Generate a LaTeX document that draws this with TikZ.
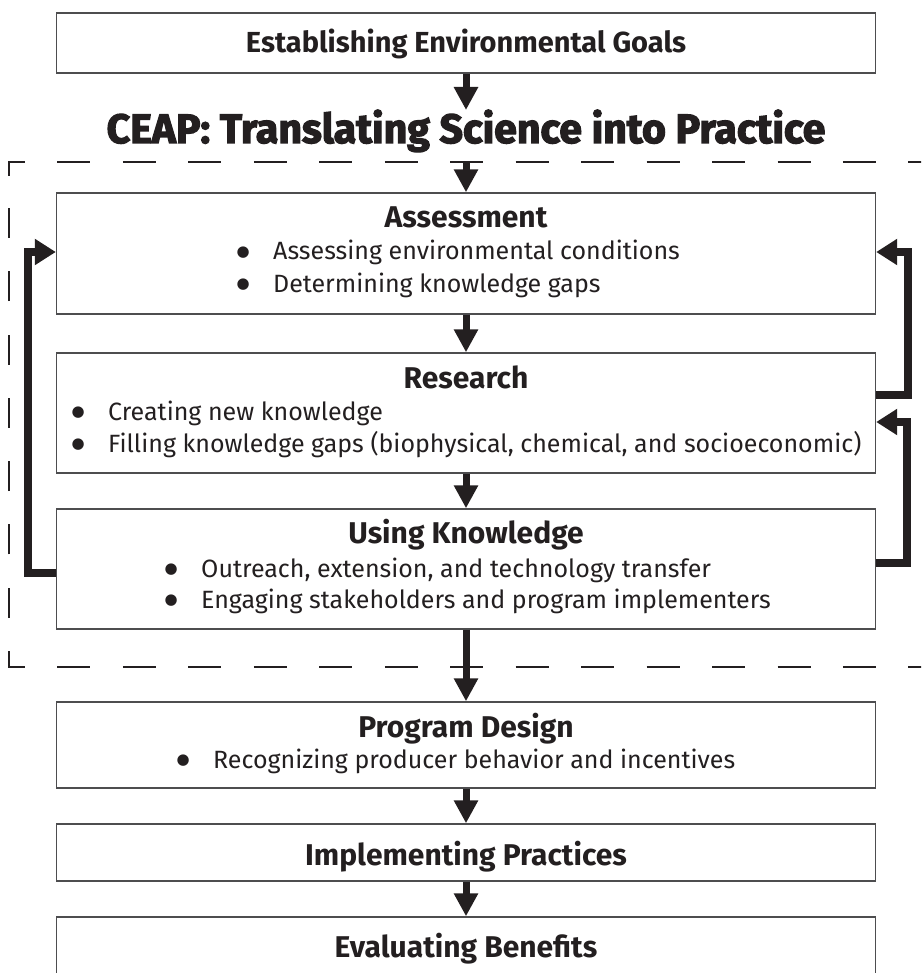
\documentclass[tikz,border=0pt]{standalone}
\usepackage{fontspec}
\setmainfont{Fira Sans}
\newfontfamily\ceapfont[UprightFont={* Bold},FakeBold=3]{Fira Sans}
\newfontfamily\dotfont{DejaVu Sans}
\usetikzlibrary{arrows.meta}
\definecolor{ink}{HTML}{231F20}
\definecolor{boxline}{HTML}{4D4D4F}
\newcommand\bul{\makebox[0pt][r]{\makebox[60pt][c]{\raisebox{3.5pt}{\dotfont\fontsize{15}{15}\selectfont ●}}}}
\tikzset{
  stagebox/.style={draw=boxline, line width=1.4pt, minimum width=819pt, inner sep=0pt, fill=white},
  headtext/.style={anchor=base, inner sep=0pt, text=ink, font=\fontsize{30}{32}\selectfont\bfseries},
  itemtext/.style={anchor=base west, inner sep=0pt, text=ink, font=\fontsize{25}{27}\selectfont},
  flow/.style={draw=ink, line width=7pt, -{Triangle[width=23pt,length=23pt]}},
  loopback/.style={draw=ink, line width=7.5pt, line join=miter, -{Triangle[width=25pt,length=21pt]}},
  dashedge/.style={draw=ink, line width=2.6pt}
}
\begin{document}
\begin{tikzpicture}[x=1pt,y=-1pt]
\useasboundingbox (0,0) rectangle (921,973);
\clip (0,0) rectangle (921,973);
% dashed frame
\draw[dashedge, dash pattern=on 33pt off 32.46pt, dash phase=17pt] (9,162) -- (930,162);
\draw[dashedge, dash pattern=on 33pt off 32.46pt, dash phase=17pt] (9,667) -- (930,667);
\draw[dashedge, dash pattern=on 30pt off 33.3pt, dash phase=14pt] (9,667) -- (9,162);
\draw[dashedge] (9,176) -- (9,162) -- (25,162);
\draw[dashedge] (9,651) -- (9,667) -- (25,667);
% boxes
\node[stagebox, minimum height=60pt] (goals) at (466,43) {};
\node[stagebox, minimum height=121pt] (assess) at (466,253.5) {};
\node[stagebox, minimum height=120pt] (research) at (466,413) {};
\node[stagebox, minimum height=120pt] (using) at (466,569) {};
\node[stagebox, minimum height=86pt] (program) at (466,745) {};
\node[stagebox, minimum height=57pt] (impl) at (466,852.5) {};
\node[stagebox, minimum height=100pt] (evalb) at (466,967) {};
% texts
\node[headtext, font=\fontsize{29}{31}\selectfont\bfseries] (goalsT) at (466,53) {Establishing Environmental Goals};
\node[anchor=base, inner sep=0pt, text=ink, font=\fontsize{41}{43}\selectfont\ceapfont] (ceap) at (466,143) {CEAP: Translating Science into Practice};
\node[headtext] (assessT) at (466,228) {Assessment};
\node[itemtext] (assess1) at (273,260) {\bul Assessing environmental conditions};
\node[itemtext] (assess2) at (273,292) {\bul Determining knowledge gaps};
\node[headtext] (researchT) at (466,388) {Research};
\node[itemtext] (research1) at (108,420) {\bul Creating new knowledge};
\node[itemtext] (research2) at (108,452) {\bul Filling knowledge gaps (biophysical, chemical, and socioeconomic)};
\node[headtext] (usingT) at (466,543) {Using Knowledge};
\node[itemtext] (using1) at (201,577) {\bul Outreach, extension, and technology transfer};
\node[itemtext] (using2) at (201,608) {\bul Engaging stakeholders and program implementers};
\node[headtext] (programT) at (466,737) {Program Design};
\node[itemtext] (program1) at (213,768) {\bul Recognizing producer behavior and incentives};
\node[headtext] (implT) at (466,865) {Implementing Practices};
\node[headtext] (evalT) at (466,957) {Evaluating Benefits};
% main flow
\coordinate (ceapin) at (466,110);
\coordinate (framein) at (466,162);
\draw[flow] (goals.south) -- (ceapin);
\draw[flow] (framein) -- (assess.north);
\draw[flow] (assess.south) -- (research.north);
\draw[flow] (research.south) -- (using.north);
\draw[flow] (using.south) -- (program.north);
\draw[flow] (program.south) -- (impl.north);
\draw[flow] (impl.south) -- (evalb.north);
% feedback loops
\draw[loopback] ([yshift=-4pt]using.west) -- ++(-28,0) |- ([yshift=1.5pt]assess.west);
\draw[loopback] ([yshift=18pt]research.east) -- ++(32,0) |- ([yshift=1.5pt]assess.east);
\draw[loopback] ([yshift=6pt]using.east) -- ++(31,0) |- ([yshift=-9pt]research.east);
\end{tikzpicture}
\end{document}
